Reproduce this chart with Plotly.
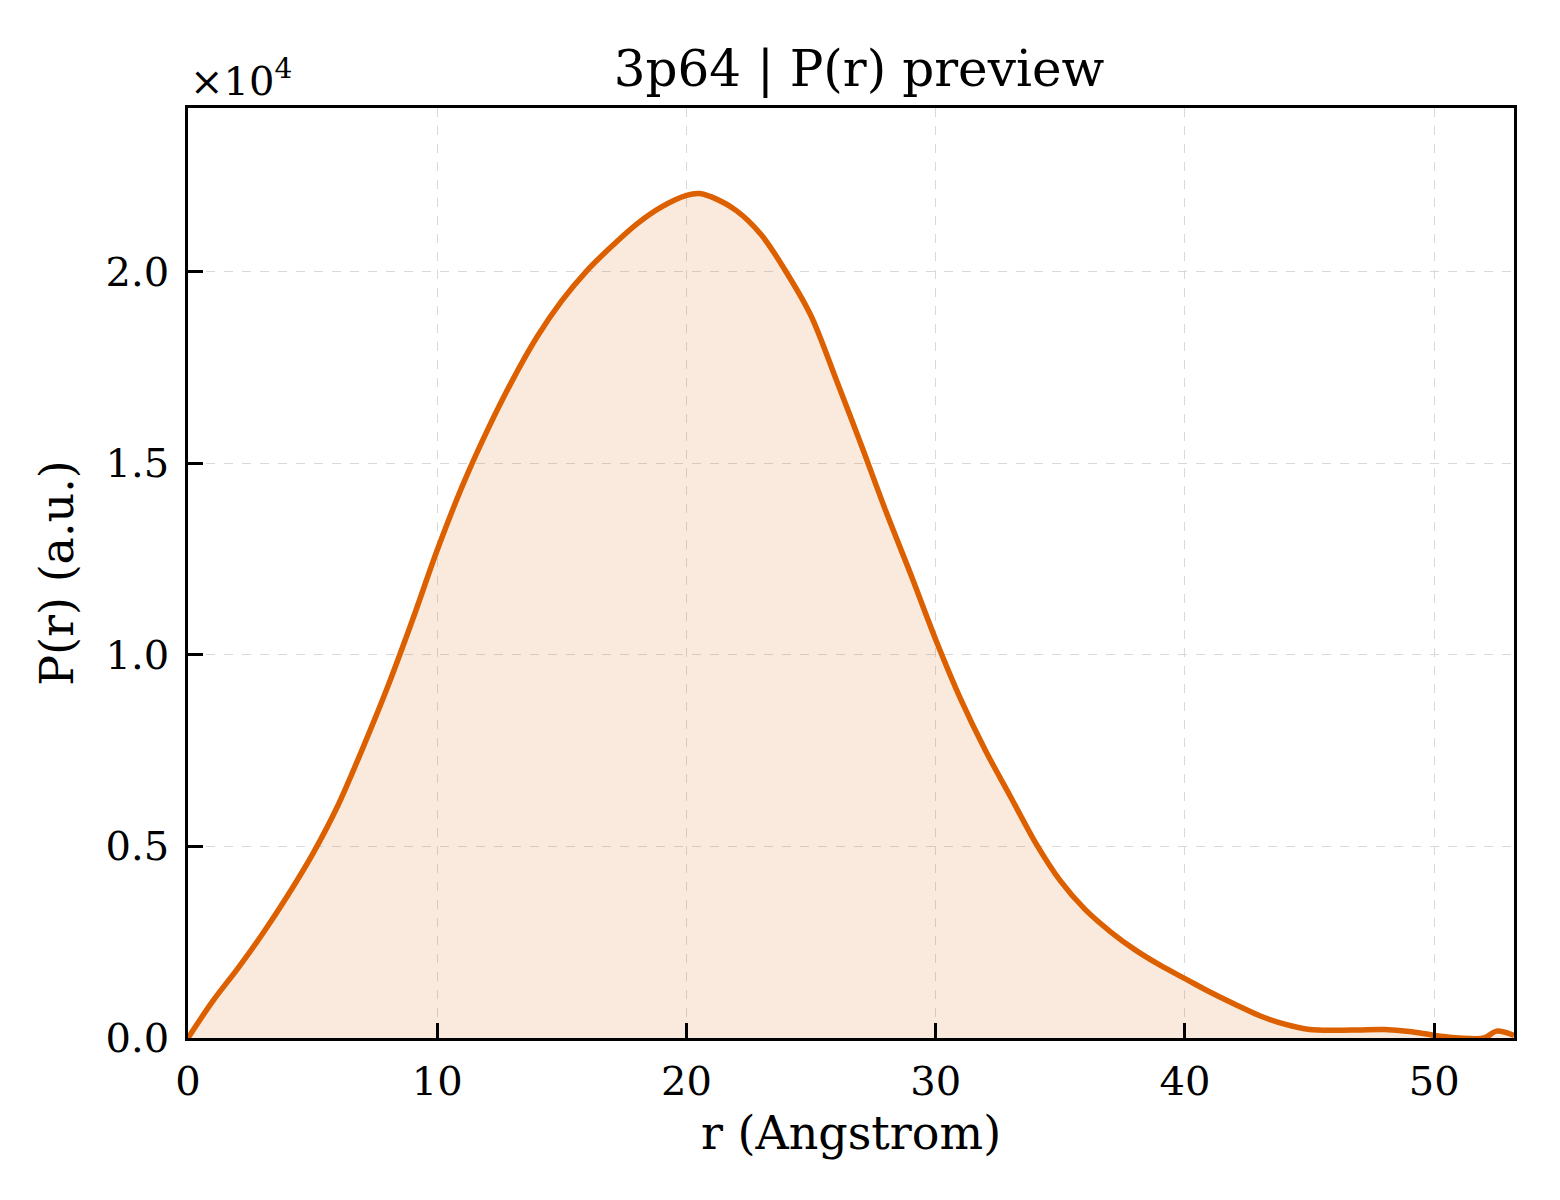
import plotly.graph_objects as go

r_angstrom = [0, 1, 2, 3, 4, 5, 6, 7, 8, 9, 10, 11, 12, 13, 14, 15, 16, 17, 18, 19,
              20, 20.5, 21, 22, 23, 24, 25, 26, 27, 28, 29, 30, 31, 32, 33, 34, 35, 36,
              37, 38, 39, 40, 41, 42, 43, 44, 45, 46, 47, 48, 49, 50, 51, 52, 52.5, 53.2]
p_r_e4 = [0.0, 0.097, 0.182, 0.273, 0.372, 0.48, 0.605, 0.755, 0.915, 1.09, 1.274,
          1.44, 1.585, 1.715, 1.83, 1.925, 2.003, 2.067, 2.125, 2.17, 2.2, 2.205,
          2.196, 2.16, 2.097, 2.0, 1.885, 1.72, 1.55, 1.375, 1.21, 1.04, 0.885, 0.75,
          0.63, 0.51, 0.41, 0.335, 0.278, 0.23, 0.19, 0.155, 0.12, 0.088, 0.058,
          0.036, 0.022, 0.020, 0.021, 0.022, 0.017, 0.007, 0.0, 0.0, 0.018, 0.007]

x_ticks = [0, 10, 20, 30, 40, 50]
y_ticks = [0.0, 0.5, 1.0, 1.5, 2.0]

line_color = "#dc6000"
font = "DejaVu Serif"

fig = go.Figure()
fig.add_trace(go.Scatter(
    x=r_angstrom, y=p_r_e4, mode="lines",
    line=dict(color=line_color, width=5.5, shape="spline", smoothing=0.9),
    fill="tozeroy", fillcolor="rgba(220,96,0,0.13)",
    showlegend=False,
))

axis_common = dict(
    showline=True, linecolor="black", linewidth=2.8, mirror=True,
    ticks="inside", ticklen=15, tickwidth=2.8, tickcolor="black",
    showgrid=True, gridcolor="#d9d9d9", gridwidth=1.3, griddash="dash",
    zeroline=False,
    tickfont=dict(family=font, size=40, color="black"),
)

fig.update_xaxes(
    range=[0, 53.2], tickvals=x_ticks, ticklabelstandoff=6,
    title=dict(text="r (Angstrom)", font=dict(family=font, size=46, color="black"), standoff=14),
    **axis_common,
)
fig.update_yaxes(
    range=[0, 2.428], tickvals=y_ticks, tickformat=".1f", ticklabelstandoff=8,
    title=dict(text="P(r) (a.u.)", font=dict(family=font, size=46, color="black"), standoff=18),
    **axis_common,
)

fig.add_annotation(
    text="×10<sup>4</sup>", xref="paper", yref="paper", x=0, y=1, xanchor="left", yanchor="bottom",
    yshift=2, showarrow=False, font=dict(family=font, size=40, color="black"),
)

fig.update_layout(
    width=1560, height=1200,
    margin=dict(l=180, r=54, t=100, b=170),
    paper_bgcolor="white", plot_bgcolor="white",
    title=dict(text="3p64 | P(r) preview", x=0.5455, xanchor="center", y=0.95, yanchor="middle",
               font=dict(family=font, size=50, color="black")),
)

fig.write_html("out.html")
